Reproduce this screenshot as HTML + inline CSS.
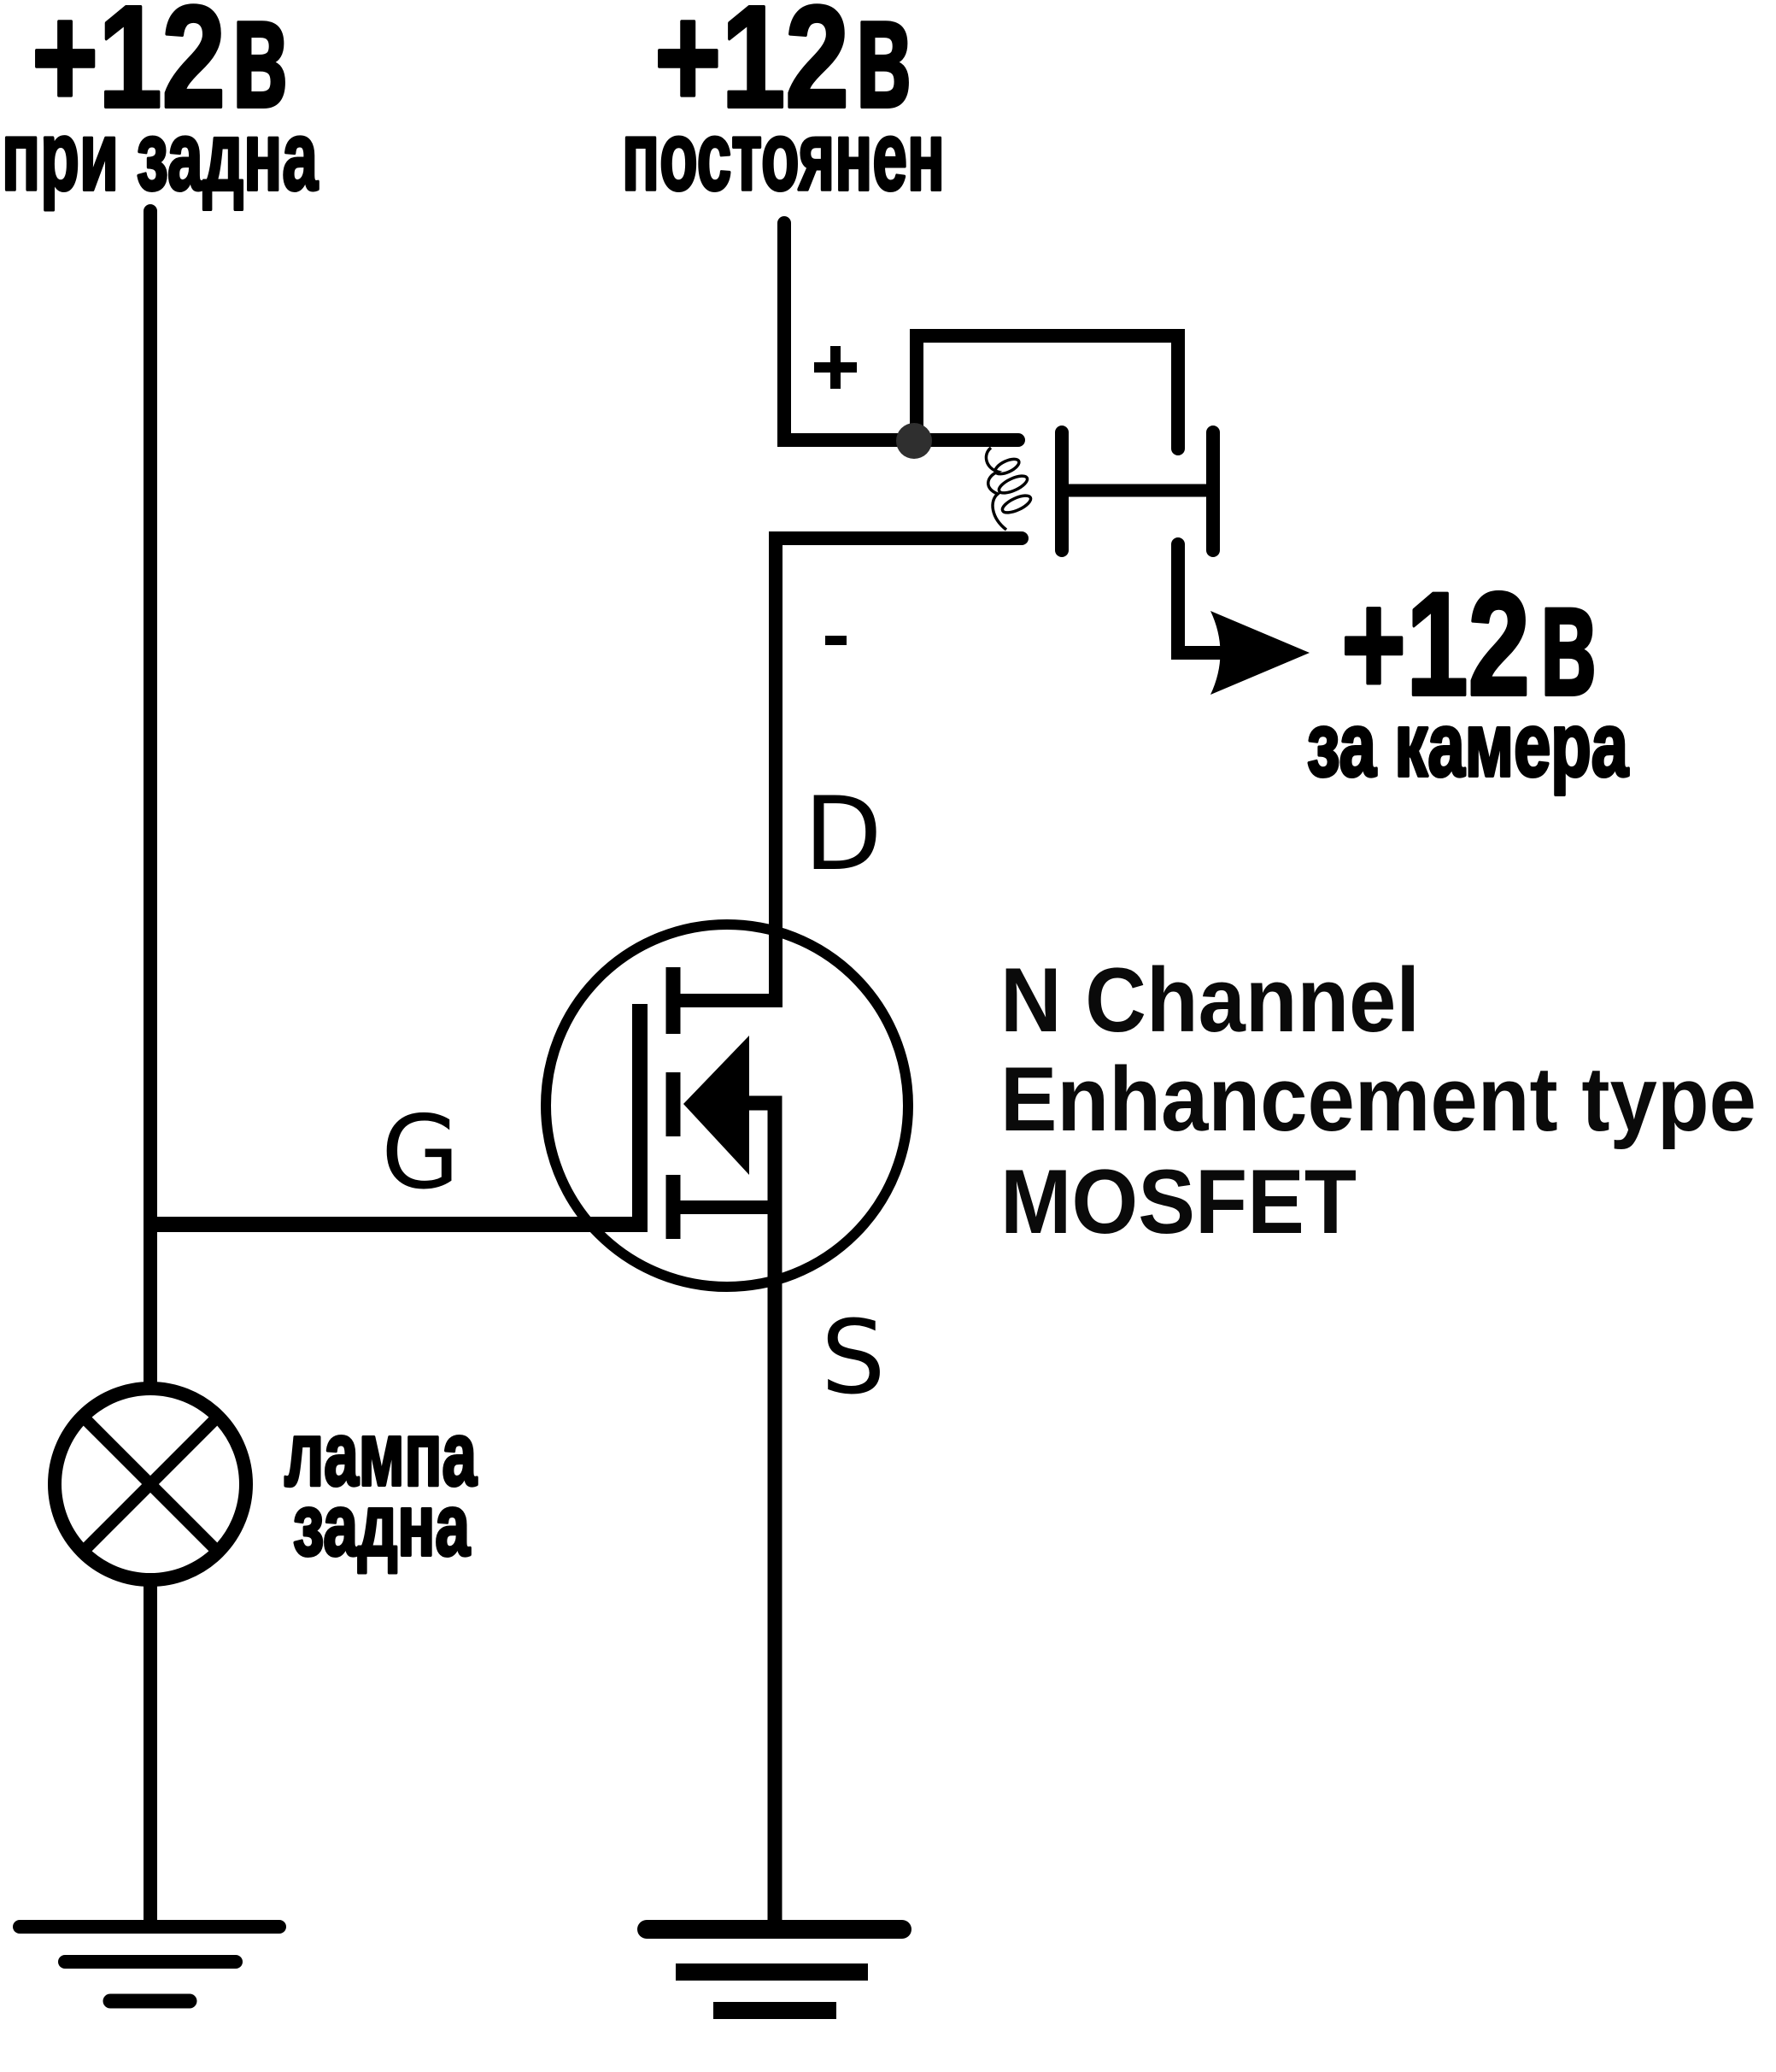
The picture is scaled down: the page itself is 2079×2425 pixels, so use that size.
<!DOCTYPE html>
<html>
<head>
<meta charset="utf-8">
<style>
html,body{margin:0;padding:0;background:#fff;}
svg{display:block;}
.cy{font-family:"Liberation Sans Narrow","Liberation Sans","DejaVu Sans",sans-serif;font-weight:bold;fill:#000;stroke:#000;stroke-width:4;stroke-linejoin:round;}
.en{font-family:"Liberation Sans",Arial,sans-serif;font-weight:bold;fill:#0a0a0a;}
.lb{font-family:"DejaVu Sans","Liberation Sans",sans-serif;fill:#000;}
</style>
</head>
<body>
<svg width="2079" height="2425" viewBox="0 0 2079 2425" xmlns="http://www.w3.org/2000/svg">
<rect x="0" y="0" width="2079" height="2425" fill="#fff"/>

<!-- Top labels -->
<text class="cy" x="37" y="125" font-size="170" textLength="227" lengthAdjust="spacingAndGlyphs">+12</text>
<text class="cy" x="271" y="125" font-size="187" textLength="66" lengthAdjust="spacingAndGlyphs">в</text>
<text class="cy" x="2" y="222" font-size="114" textLength="370" lengthAdjust="spacingAndGlyphs">при задна</text>

<text class="cy" x="766" y="125" font-size="170" textLength="228" lengthAdjust="spacingAndGlyphs">+12</text>
<text class="cy" x="1001" y="125" font-size="187" textLength="66" lengthAdjust="spacingAndGlyphs">в</text>
<text class="cy" x="728" y="222" font-size="114" textLength="378" lengthAdjust="spacingAndGlyphs">постоянен</text>

<!-- Camera label -->
<text class="cy" x="1570" y="813" font-size="172" textLength="221" lengthAdjust="spacingAndGlyphs">+12</text>
<text class="cy" x="1802" y="813" font-size="190" textLength="67" lengthAdjust="spacingAndGlyphs">в</text>
<text class="cy" x="1530" y="908" font-size="106" textLength="376" lengthAdjust="spacingAndGlyphs">за камера</text>

<!-- Lamp label -->
<text class="cy" x="333" y="1738" font-size="106" textLength="225" lengthAdjust="spacingAndGlyphs">лампа</text>
<text class="cy" x="343" y="1820" font-size="102" textLength="207" lengthAdjust="spacingAndGlyphs">задна</text>

<!-- MOSFET description -->
<text class="en" x="1171" y="1207" font-size="107" textLength="491" lengthAdjust="spacingAndGlyphs">N Channel</text>
<text class="en" x="1171" y="1323" font-size="107" textLength="885" lengthAdjust="spacingAndGlyphs">Enhancement type</text>
<text class="en" x="1171" y="1443" font-size="107" textLength="417" lengthAdjust="spacingAndGlyphs">MOSFET</text>

<!-- Pin labels -->
<text class="lb" x="941" y="1017" font-size="119">D</text>
<text class="lb" x="446" y="1390" font-size="119">G</text>
<text class="lb" x="961" y="1630" font-size="119">S</text>

<g fill="none" stroke="#000">
  <!-- Left wire -->
  <line x1="176" y1="247" x2="176" y2="1625" stroke-width="16" stroke-linecap="round"/>
  <line x1="176" y1="1850" x2="176" y2="2247" stroke-width="16"/>
  <!-- Lamp -->
  <circle cx="176" cy="1737" r="112" stroke-width="16"/>
  <line x1="100" y1="1661" x2="252" y2="1813" stroke-width="14"/>
  <line x1="252" y1="1661" x2="100" y2="1813" stroke-width="14"/>

  <!-- Gate wire -->
  <path d="M176,1433 H749 V1175" stroke-width="18" stroke-linejoin="miter"/>

  <!-- Top right supply wire to coil + -->
  <path d="M918,261 V515 H1192" stroke-width="16" stroke-linecap="round" stroke-linejoin="miter"/>
  <!-- Relay contact common -->
  <path d="M1073,516 V393 H1379 V525" stroke-width="16" stroke-linecap="round" stroke-linejoin="miter"/>
  <!-- Coil - wire to drain -->
  <path d="M1196,630 H908 V1171 H790" stroke-width="16" stroke-linecap="round" stroke-linejoin="miter"/>

  <!-- Coil -->
  <g stroke-width="3.5">
    <path d="M1160,524 C1150,532 1154,548 1168,552 C1154,558 1152,572 1168,578 C1158,586 1160,606 1178,620"/>
    <ellipse cx="1179" cy="546" rx="15" ry="6.5" transform="rotate(-25 1179 546)"/>
    <ellipse cx="1186" cy="567" rx="18" ry="7" transform="rotate(-25 1186 567)"/>
    <ellipse cx="1190" cy="590" rx="18" ry="7" transform="rotate(-25 1190 590)"/>
  </g>

  <!-- Armature -->
  <line x1="1243" y1="506" x2="1243" y2="644" stroke-width="16" stroke-linecap="round"/>
  <line x1="1243" y1="574" x2="1420" y2="574" stroke-width="15"/>
  <line x1="1420" y1="506" x2="1420" y2="644" stroke-width="16" stroke-linecap="round"/>
  <!-- Output contact -->
  <path d="M1379,637 V764 H1428" stroke-width="16" stroke-linecap="round" stroke-linejoin="miter"/>

  <!-- MOSFET -->
  <circle cx="851" cy="1294" r="212" stroke-width="12"/>
  <line x1="788" y1="1132" x2="788" y2="1210" stroke-width="17"/>
  <line x1="788" y1="1255" x2="788" y2="1330" stroke-width="17"/>
  <line x1="788" y1="1375" x2="788" y2="1450" stroke-width="17"/>
  <line x1="788" y1="1413" x2="915" y2="1413" stroke-width="16"/>
  <path d="M870,1291 H907 V2250" stroke-width="17" stroke-linejoin="miter"/>

  <!-- Left ground -->
  <line x1="23" y1="2255" x2="327" y2="2255" stroke-width="16" stroke-linecap="round"/>
  <line x1="76" y1="2296" x2="276" y2="2296" stroke-width="16" stroke-linecap="round"/>
  <line x1="129" y1="2342" x2="222" y2="2342" stroke-width="17" stroke-linecap="round"/>

  <!-- Right ground -->
  <line x1="757" y1="2258" x2="1056" y2="2258" stroke-width="22" stroke-linecap="round"/>
</g>

<!-- Filled shapes -->
<circle cx="1070" cy="516" r="21" fill="#2f2f2f"/>
<path d="M1417,715 L1533,764 L1417,813 Q1440,764 1417,715 Z" fill="#000"/>
<polygon points="800,1292 877,1212 877,1375" fill="#000"/>
<rect x="791" y="2298" width="225" height="20" fill="#000"/>
<rect x="835" y="2343" width="144" height="20" fill="#000"/>

<!-- + and - marks -->
<rect x="953" y="424" width="50" height="12" fill="#000"/>
<rect x="972" y="405" width="12" height="50" fill="#000"/>
<rect x="966" y="744" width="25" height="11" fill="#000"/>
</svg>
</body>
</html>
